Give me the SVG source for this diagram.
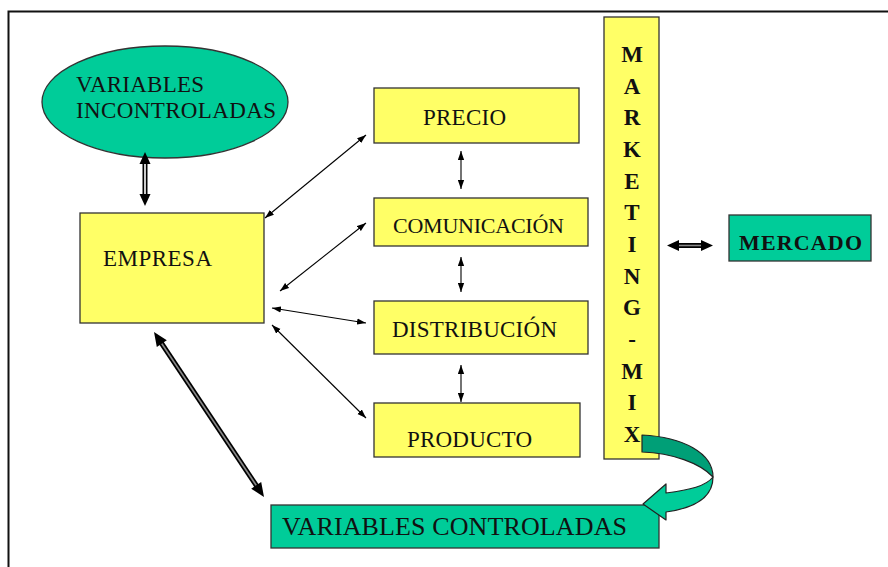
<svg xmlns="http://www.w3.org/2000/svg" width="888" height="567" viewBox="0 0 888 567">
<defs>
<style>
.box{fill:#FFFF66;stroke:#333;stroke-width:1.3}
.teal{fill:#00CC99;stroke:#333;stroke-width:1.3}
.t{font-family:"Liberation Serif","Times New Roman",serif;fill:#111}
.b{font-weight:bold}
.thin{stroke:#000;stroke-width:1.1;fill:none;marker-start:url(#ah);marker-end:url(#ah)}
.dbo{stroke:#000;stroke-width:5;fill:none}
.dbi{stroke:#fff;stroke-width:1.6;fill:none}
.dbg{stroke:#888;stroke-width:1.6;fill:none}
.head{fill:#000}
</style>
<marker id="ah" viewBox="0 0 10 7" markerUnits="userSpaceOnUse" markerWidth="9" markerHeight="7" refX="10" refY="3.5" orient="auto-start-reverse">
<path d="M0,0 L10,3.5 L0,7 z" fill="#000"/>
</marker>
</defs>
<rect width="888" height="567" fill="#fff"/>
<g id="frame" fill="none" stroke="#111" stroke-width="2">
<path d="M8.5,567 L8.5,11.5 L888,11.5"/>
</g>

<g id="variables-incontroladas">
<ellipse class="teal" cx="165" cy="102" rx="123" ry="56"/>
<text class="t" x="76" y="92" font-size="23" textLength="128">VARIABLES</text>
<text class="t" x="76" y="118" font-size="23" textLength="200">INCONTROLADAS</text>
</g>

<g id="empresa">
<rect class="box" x="80" y="213" width="184" height="110"/>
<text class="t" x="103" y="266" font-size="23" textLength="109">EMPRESA</text>
</g>

<g id="precio">
<rect class="box" x="374" y="88" width="205" height="55"/>
<text class="t" x="423" y="125" font-size="23" textLength="83">PRECIO</text>
</g>

<g id="comunicacion">
<rect class="box" x="374" y="198" width="214" height="48"/>
<text class="t" x="393" y="233" font-size="22" textLength="171">COMUNICACIÓN</text>
</g>

<g id="distribucion">
<rect class="box" x="374" y="301" width="214" height="53"/>
<text class="t" x="392" y="337" font-size="23" textLength="165">DISTRIBUCIÓN</text>
</g>

<g id="producto">
<rect class="box" x="374" y="403" width="206" height="54"/>
<text class="t" x="407" y="447" font-size="23" textLength="125">PRODUCTO</text>
</g>

<g id="marketing-mix">
<rect class="box" x="604" y="17" width="55" height="442"/>
<g class="t b" font-size="23" text-anchor="middle">
<text x="632" y="62">M</text>
<text x="632" y="93.7">A</text>
<text x="632" y="125.3">R</text>
<text x="632" y="157">K</text>
<text x="632" y="188.7">E</text>
<text x="632" y="220.3">T</text>
<text x="632" y="252">I</text>
<text x="632" y="283.7">N</text>
<text x="632" y="315.3">G</text>
<text x="632" y="347">-</text>
<text x="632" y="378.7">M</text>
<text x="632" y="410.3">I</text>
<text x="632" y="442">X</text>
</g>
</g>

<g id="mercado">
<rect class="teal" x="729" y="215" width="142" height="46"/>
<text class="t b" x="739" y="250" font-size="22" textLength="123">MERCADO</text>
</g>

<g id="variables-controladas">
<rect class="teal" x="271" y="505" width="388" height="43"/>
<text class="t" x="282" y="535" font-size="26" textLength="345">VARIABLES CONTROLADAS</text>
</g>

<g id="connectors">
<line class="thin" x1="265" y1="218" x2="366" y2="135"/>
<line class="thin" x1="280" y1="291" x2="366" y2="223"/>
<line class="thin" x1="272" y1="308" x2="366" y2="323"/>
<line class="thin" x1="272" y1="325" x2="366" y2="418"/>
<line class="thin" x1="461" y1="151" x2="461" y2="189"/>
<line class="thin" x1="461" y1="257" x2="461" y2="292"/>
<line class="thin" x1="461" y1="365" x2="461" y2="402"/>
<line class="dbo" x1="145" y1="160" x2="145" y2="198"/>
<line class="dbi" x1="145" y1="160" x2="145" y2="198"/>
<polygon class="head" points="145,152 139.5,164 150.5,164"/>
<polygon class="head" points="145,206 139.5,194 150.5,194"/>
<line class="dbo" x1="160" y1="341" x2="258" y2="488"/>
<line class="dbg" x1="160" y1="341" x2="258" y2="488"/>
<polygon class="head" points="154,332 156.8,347 166.8,340.3"/>
<polygon class="head" points="264,497 251.2,488.7 261.2,482"/>
<line class="dbo" x1="676" y1="245.5" x2="704" y2="245.5"/>
<line class="dbg" x1="676" y1="245.5" x2="704" y2="245.5"/>
<polygon class="head" points="667,245.5 679,240 679,251"/>
<polygon class="head" points="713,245.5 701,240 701,251"/>
<path d="M642,435 C683,437 713,453 713,477 C700,463 672,453 642,452 Z" fill="#009F77" stroke="#222" stroke-width="1.2" stroke-linejoin="round"/>
<path d="M713,477 C713,497 695,508 666,512 L666,520 L643,504 L666,484 L666,493 C690,490 706,486 713,477 Z" fill="#00CC99" stroke="#222" stroke-width="1.2" stroke-linejoin="round"/>
</g>
</svg>
